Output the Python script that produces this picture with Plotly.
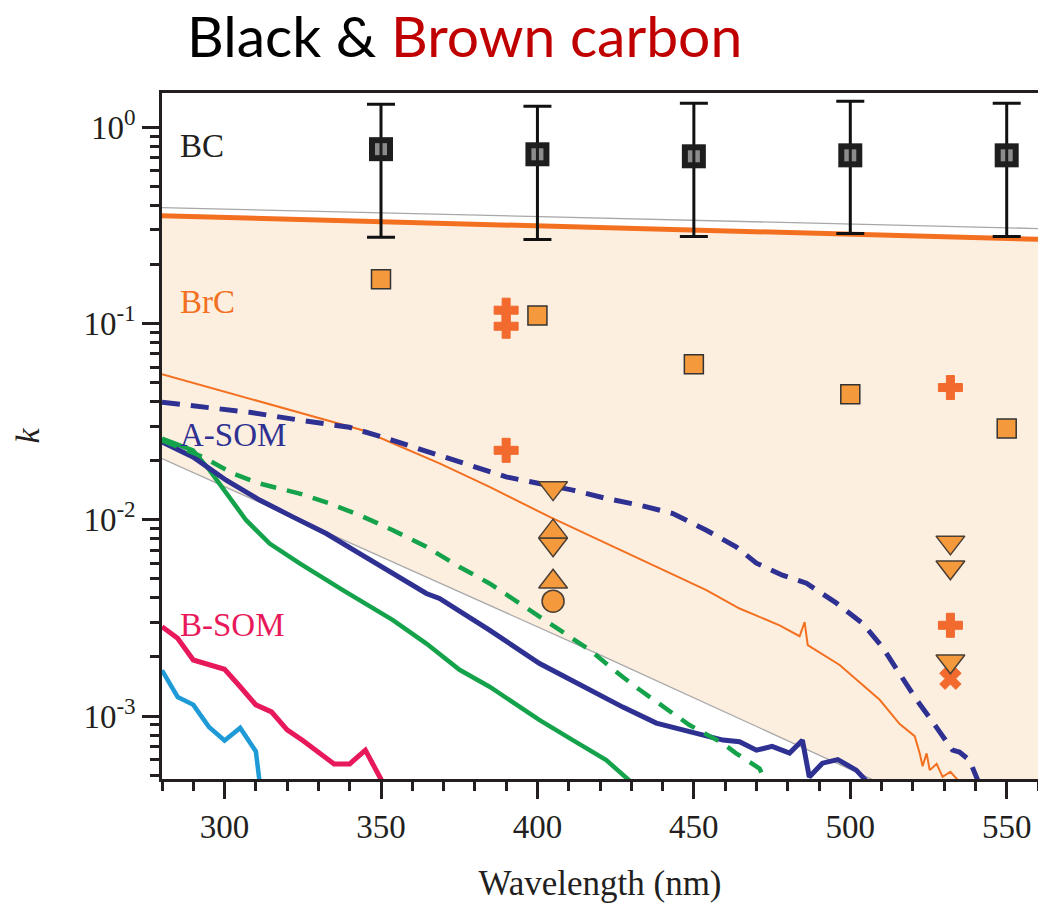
import plotly.graph_objects as go

# ---------------- data ----------------
bc_wl = [350, 400, 450, 500, 550]
bc_k = [0.774, 0.729, 0.712, 0.720, 0.720]
bc_k_upper = [1.31, 1.28, 1.325, 1.357, 1.325]
bc_k_lower = [0.275, 0.268, 0.278, 0.288, 0.278]

brc_sq_wl = [350, 400, 450, 500, 550]
brc_sq_k = [0.168, 0.110, 0.0621, 0.0436, 0.0292]

cross_wl = [390, 390, 390, 532, 532]
cross_k = [0.117, 0.0969, 0.0226, 0.0472, 0.00290]

tri_down_wl = [405, 405, 532, 532, 532]
tri_down_k = [0.0145, 0.0075, 0.00767, 0.00573, 0.00190]

tri_up_wl = [405, 405]
tri_up_k = [0.0087, 0.00483]

circle_wl = [405]
circle_k = [0.00385]

xmark_wl = [532]
xmark_k = [0.00155]

brc_upper_wl = [280, 560]
brc_upper_k = [0.354, 0.269]

gray_upper_wl = [280, 560]
gray_upper_k = [0.390, 0.305]

gray_lower_wl = [280, 420, 560]
gray_lower_k = [0.0205, 0.00205, 0.000195]

orange_thin_wl = [280, 308, 324, 344.1, 368.7, 384.7, 403.9, 422.0, 438.0, 454.0, 464.6,
                  477.4, 483.8, 485.4, 486.4, 496.6, 509.4, 515.8, 520.6, 522.2, 523.1,
                  524.4, 525.4, 527.6, 529.5, 532, 535]
orange_thin_k = [0.0552, 0.0413, 0.0350, 0.0286, 0.0194, 0.01471, 0.01035, 0.00757, 0.00575,
                 0.00438, 0.00353, 0.0029, 0.00255, 0.00301, 0.0023, 0.00182, 0.00121, 0.00091,
                 0.00079, 0.000645, 0.000555, 0.000645, 0.00053, 0.00057, 0.00049, 0.00052, 0.00046]

blue_dash_wl = [280, 308, 324, 339.9, 350.5, 369.8, 390.0, 411.3, 422.0, 432.7, 443.3, 454.0,
                463.5, 470.0, 478.3, 486.0, 495.6, 503.9, 510.3, 515.7, 521.2, 527.5, 532.7,
                534.9, 538.1, 541]
blue_dash_k = [0.0397, 0.0353, 0.0322, 0.0296, 0.0264, 0.0209, 0.01654, 0.01416, 0.01284,
               0.01187, 0.01076, 0.00885, 0.00728, 0.00601, 0.00522, 0.00475, 0.00376, 0.00297,
               0.00224, 0.00165, 0.00121, 0.000878, 0.00067, 0.000655, 0.000596, 0.00046]

green_dash_wl = [280, 293.1, 302.7, 311.2, 324.0, 333.6, 343.2, 353.8, 364.5, 375.1, 384.7,
                 400.7, 416.7, 427.3, 432.7, 443.3, 448.6, 459.3, 463.5, 471.0, 473]
green_dash_k = [0.0254, 0.0209, 0.0172, 0.0153, 0.0136, 0.0121, 0.01055, 0.00885, 0.00728,
                0.00575, 0.00474, 0.0032, 0.00217, 0.00158, 0.00136, 0.00103, 0.00090,
                0.000725, 0.000645, 0.00054, 0.00046]

navy_wl = [280, 289.9, 300.5, 311.2, 321.8, 332.5, 343.2, 353.8, 364.5, 368.7, 384.7, 400.7,
           416.7, 427.3, 438.0, 448.6, 459.3, 464.6, 470.0, 475, 480.6, 484.7, 486.9, 491.1,
           496, 501.9, 505.5]
navy_k = [0.0249, 0.0209, 0.0159, 0.0126, 0.01035, 0.00851, 0.00673, 0.00532, 0.00421, 0.00397,
          0.00274, 0.00185, 0.00136, 0.00111, 0.00092, 0.000831, 0.000754, 0.00074, 0.00067,
          0.00070, 0.000647, 0.000753, 0.000489, 0.000575, 0.00060, 0.00053, 0.00046]

green_wl = [280, 289.9, 295.2, 300.5, 306.9, 314.4, 324.0, 337.8, 353.8, 364.5, 375.1, 384.7,
            400.7, 411.3, 422.0, 430]
green_k = [0.0259, 0.0226, 0.0179, 0.0136, 0.00995, 0.00757, 0.00599, 0.00438, 0.00308, 0.00234,
           0.00172, 0.00141, 0.000953, 0.000754, 0.000596, 0.00046]

pink_wl = [280, 285, 290, 295, 300, 305, 310, 315, 320, 325, 335, 340, 345, 350.5]
pink_k = [0.00285, 0.00249, 0.00193, 0.00182, 0.00173, 0.00141, 0.00114, 0.00105, 0.00085,
          0.00075, 0.00057, 0.00057, 0.00067, 0.00046]

lightblue_wl = [280, 285, 290, 295, 300, 305, 310, 311.2]
lightblue_k = [0.00171, 0.00125, 0.00114, 0.00088, 0.00075, 0.00087, 0.00066, 0.00046]

x_tick_vals = [300, 350, 400, 450, 500, 550]
x_minor_vals = list(range(280, 561, 10))
y_tick_vals = [0.001, 0.01, 0.1, 1]
y_tick_text = ["10<sup>-3</sup>", "10<sup>-2</sup>", "10<sup>-1</sup>", "10<sup>0</sup>"]
y_minor_vals = [m * 10.0 ** d for d in range(-4, 1) for m in range(2, 10)]

# ---------------- colours ----------------
DARK = "#231F20"
ORANGE = "#F37021"
NAVY = "#2E3192"
GREEN = "#14A24A"
PINK = "#E8195A"
LBLUE = "#1E9BD7"
MK_FILL = "#F59A3C"
MK_EDGE = "#4A3F35"
CROSS = "#F26A2E"
SHADE = "#FDEFE0"
GRAY = "#A8A8A8"
SERIF = "Liberation Serif"

fig = go.Figure()

# shaded BrC band
fig.add_trace(go.Scatter(
    x=brc_upper_wl + gray_lower_wl[::-1], y=brc_upper_k + gray_lower_k[::-1],
    fill="toself", fillcolor=SHADE, mode="lines", line=dict(width=0), hoverinfo="skip"))

fig.add_trace(go.Scatter(x=gray_lower_wl, y=gray_lower_k, mode="lines",
                         line=dict(color=GRAY, width=1.3)))
fig.add_trace(go.Scatter(x=gray_upper_wl, y=gray_upper_k, mode="lines",
                         line=dict(color=GRAY, width=1.3)))
fig.add_trace(go.Scatter(x=brc_upper_wl, y=brc_upper_k, mode="lines",
                         line=dict(color=ORANGE, width=5)))

fig.add_trace(go.Scatter(x=lightblue_wl, y=lightblue_k, mode="lines",
                         line=dict(color=LBLUE, width=4.5)))
fig.add_trace(go.Scatter(x=pink_wl, y=pink_k, mode="lines",
                         line=dict(color=PINK, width=5)))
fig.add_trace(go.Scatter(x=green_wl, y=green_k, mode="lines",
                         line=dict(color=GREEN, width=4.5)))
fig.add_trace(go.Scatter(x=navy_wl, y=navy_k, mode="lines",
                         line=dict(color=NAVY, width=5)))
fig.add_trace(go.Scatter(x=green_dash_wl, y=green_dash_k, mode="lines",
                         line=dict(color=GREEN, width=4.5, dash="16px,11px")))
fig.add_trace(go.Scatter(x=orange_thin_wl, y=orange_thin_k, mode="lines",
                         line=dict(color=ORANGE, width=2)))
fig.add_trace(go.Scatter(x=blue_dash_wl, y=blue_dash_k, mode="lines",
                         line=dict(color=NAVY, width=5, dash="18px,11px")))

# BrC markers
fig.add_trace(go.Scatter(x=brc_sq_wl, y=brc_sq_k, mode="markers",
                         marker=dict(symbol="square", size=19, color=MK_FILL,
                                     line=dict(color="#333333", width=1.5))))
fig.add_trace(go.Scatter(x=cross_wl, y=cross_k, mode="markers",
                         marker=dict(symbol="cross", size=20, color=CROSS,
                                     line=dict(color=CROSS, width=1))))
fig.add_trace(go.Scatter(x=xmark_wl, y=xmark_k, mode="markers",
                         marker=dict(symbol="x", size=19, color=CROSS,
                                     line=dict(color=CROSS, width=1))))
fig.add_trace(go.Scatter(x=tri_down_wl, y=tri_down_k, mode="markers",
                         marker=dict(symbol="triangle-down", size=25, color=MK_FILL,
                                     line=dict(color=MK_EDGE, width=1.5))))
fig.add_trace(go.Scatter(x=tri_up_wl, y=tri_up_k, mode="markers",
                         marker=dict(symbol="triangle-up", size=25, color=MK_FILL,
                                     line=dict(color=MK_EDGE, width=1.5))))
fig.add_trace(go.Scatter(x=circle_wl, y=circle_k, mode="markers",
                         marker=dict(symbol="circle", size=22, color=MK_FILL,
                                     line=dict(color=MK_EDGE, width=1.5))))

# BC markers with error bars
fig.add_trace(go.Scatter(
    x=bc_wl, y=bc_k, mode="markers",
    marker=dict(symbol="square", size=24, color="#1E1E1E", line=dict(width=0)),
    error_y=dict(type="data", symmetric=False,
                 array=[u - v for u, v in zip(bc_k_upper, bc_k)],
                 arrayminus=[v - l for v, l in zip(bc_k, bc_k_lower)],
                 color="#111111", thickness=3, width=14)))
fig.add_trace(go.Scatter(x=bc_wl, y=bc_k, mode="markers",
                         marker=dict(symbol="square", size=12, color="#8C8C8C",
                                     line=dict(width=0))))
fig.add_trace(go.Scatter(x=bc_wl, y=bc_k, mode="markers",
                         marker=dict(symbol="line-ns", size=12,
                                     line=dict(color="#1E1E1E", width=3))))

# text labels
labels = [("BC", 0.9223, DARK), ("BrC", 0.695, ORANGE),
          ("A-SOM", 0.5012, NAVY), ("B-SOM", 0.2248, PINK)]
annotations = [dict(text=t, x=0.0183, y=yy, xref="paper", yref="paper",
                    xanchor="left", yanchor="middle", showarrow=False,
                    font=dict(family=SERIF, size=33, color=c)) for t, yy, c in labels]
annotations.append(dict(
    text="Black & <span style='color:#C00000'>Brown carbon</span>",
    x=0.0263, y=1.0843, xref="paper", yref="paper", xanchor="left", yanchor="middle",
    height=54, valign="middle",
    showarrow=False, font=dict(family="Lato", size=57, color="#000000")))

axis_common = dict(showline=True, mirror=True, linecolor=DARK, linewidth=2.5,
                   ticks="outside", tickcolor=DARK, tickwidth=2.5, ticklen=17,
                   showgrid=False, zeroline=False, automargin=False,
                   tickfont=dict(family=SERIF, size=33, color=DARK))

# the page adds an 8 px body margin, so the figure is 8 px smaller on each axis
fig.update_layout(
    width=1038, height=895,
    margin=dict(l=154, r=8, t=85, b=124, autoexpand=False),
    paper_bgcolor="white", plot_bgcolor="white",
    showlegend=False,
    annotations=annotations,
    xaxis=dict(range=[280, 560], tickvals=x_tick_vals,
               minor=dict(tickvals=x_minor_vals, ticks="outside", ticklen=9,
                          tickwidth=2.5, tickcolor=DARK),
               title=dict(text="Wavelength (nm)", standoff=33,
                          font=dict(family=SERIF, size=35, color=DARK)),
               **axis_common),
    yaxis=dict(type="log", range=[-3.321, 0.175], tickvals=y_tick_vals, ticktext=y_tick_text,
               minor=dict(tickvals=y_minor_vals, ticks="outside", ticklen=9,
                          tickwidth=2.5, tickcolor=DARK),
               ticksuffix=" ",
               title=dict(text="<i>k</i>", standoff=34,
                          font=dict(family=SERIF, size=34, color=DARK)),
               **axis_common),
)

fig.write_html("out.html")
